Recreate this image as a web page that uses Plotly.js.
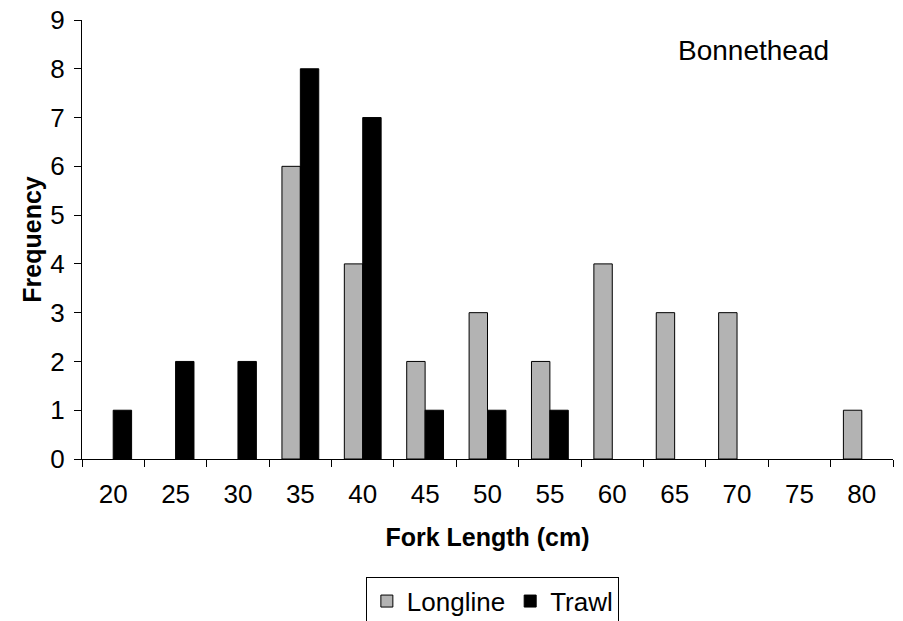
<!DOCTYPE html>
<html>
<head>
<meta charset="utf-8">
<script src="https://cdn.plot.ly/plotly-3.0.1.min.js"></script>
<style>html,body{margin:0;padding:0;background:#fff;}#chart{width:903px;height:621px;}</style>
</head>
<body>
<div id="chart"></div>
<script>
const categories = ["20","25","30","35","40","45","50","55","60","65","70","75","80"];
const longline = [0,0,0,6,4,2,3,2,4,3,3,0,1];
const trawl = [1,2,2,8,7,1,1,1,0,0,0,0,0];
const seriesNames = ["Longline","Trawl"];
const chartLabel = "Bonnethead";

const font = "Liberation Sans, Arial, sans-serif";
const drawn = vals => vals.map(v => v > 0 ? v : null);
const data = [
  {type:"bar", name:seriesNames[0], x:categories, y:drawn(longline),
   marker:{color:"#b3b3b3", line:{color:"#000", width:1}}},
  {type:"bar", name:seriesNames[1], x:categories, y:drawn(trawl),
   marker:{color:"#000000", line:{color:"#000", width:1}}}
];
const layout = {
  width:903, height:621,
  margin:{l:82, r:10, t:20, b:162, autoexpand:false},
  paper_bgcolor:"#fff", plot_bgcolor:"#fff",
  font:{family:font, color:"#000", size:26},
  barmode:"group", bargap:0.41, bargroupgap:0,
  showlegend:true,
  legend:{orientation:"h", x:0.506, xanchor:"center", y:-0.268, yanchor:"top",
    bordercolor:"#000", borderwidth:1, bgcolor:"#fff",
    font:{family:font, size:26}, traceorder:"normal", itemwidth:30},
  xaxis:{type:"category", showline:true, linecolor:"#000", linewidth:1,
    ticks:"outside", ticklen:7, tickcolor:"#000", tickson:"boundaries",
    ticklabelstandoff:12,
    showgrid:false, zeroline:false,
    tickfont:{family:font, size:26},
    title:{text:"<b>Fork Length (cm)</b>", font:{family:font, size:25}, standoff:20}},
  yaxis:{range:[0,9], dtick:1, showline:true, linecolor:"#000", linewidth:1,
    ticks:"outside", ticklen:7, tickcolor:"#000", showgrid:false, zeroline:false,
    ticklabelstandoff:4,
    tickfont:{family:font, size:26},
    title:{text:"<b>Frequency</b>", font:{family:font, size:25}, standoff:1}},
  annotations:[{text:chartLabel, xref:"paper", yref:"paper", x:0.828, y:0.93,
    xanchor:"center", yanchor:"middle", showarrow:false, font:{family:font, size:28}}]
};
Plotly.newPlot("chart", data, layout, {displayModeBar:false, staticPlot:true});
</script>
</body>
</html>
